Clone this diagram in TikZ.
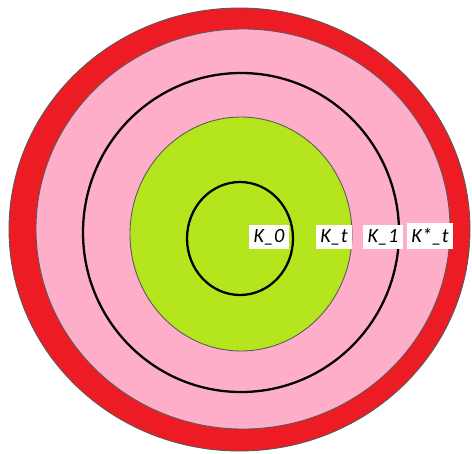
\documentclass[tikz,border=0pt]{standalone}
\usepackage{fontspec}
\setmainfont{Carlito}
\usepackage{xcolor}

\definecolor{ringred}{HTML}{ED1C24}
\definecolor{ringpink}{HTML}{FFAEC9}
\definecolor{ringlime}{HTML}{B5E61D}

\begin{document}
\begin{tikzpicture}[
    x=0.02cm, y=-0.02cm,
    edge/.style={draw=gray!70!black, line width=0.5pt},
    bound/.style={draw=black, line width=1.3pt},
    tag/.style={fill=white, inner sep=2.5pt, anchor=base, font=\fontsize{11.5}{13}\selectfont\itshape}
]
    \useasboundingbox (0,0) rectangle (472,453);

    % Filled rings
    \filldraw[edge, fill=ringred] (239.5,229.5) ellipse [x radius=230.5, y radius=221.5];
    \filldraw[edge, fill=ringpink] (243,229) ellipse [x radius=207, y radius=200];
    \filldraw[edge, fill=ringlime] (241,234) ellipse [x radius=111, y radius=117];

    % Level sets
    \draw[bound] (241,232.5) ellipse [x radius=158, y radius=159.5];
    \draw[bound] (240,238.5) ellipse [x radius=53, y radius=56.5];

    % Labels
    \node[tag] (k0) at (269,242) {K\_0};
    \node[tag] (kt) at (334,242) {K\_t};
    \node[tag] (k1) at (383,242) {K\_1};
    \node[tag] (kst) at (430,242) {K*\_t};
\end{tikzpicture}
\end{document}
